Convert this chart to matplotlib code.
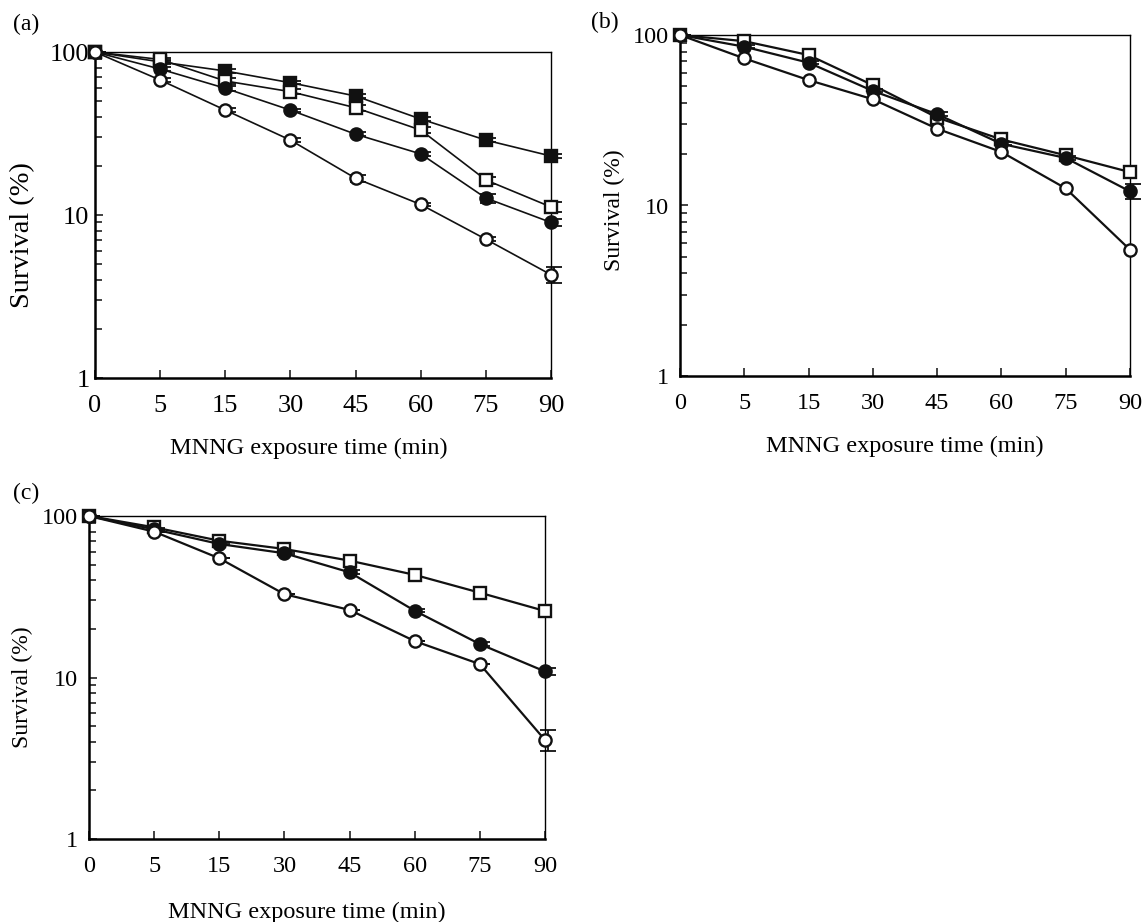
import matplotlib
matplotlib.use("Agg")
import matplotlib.pyplot as plt
import numpy as np
from matplotlib.ticker import LogLocator, NullFormatter

plt.rcParams['font.family'] = ['Liberation Serif', 'DejaVu Serif']

times = ["0", "5", "15", "30", "45", "60", "75", "90"]

# Panel (a)
a_filled_sq = [100, 87, 76.5, 64.8, 53.7, 38.8, 28.8, 23.0]
a_open_sq = [100, 90, 66.4, 57.1, 45.5, 33.2, 16.4, 11.2]
a_filled_ci = [100, 78.6, 59.9, 44.0, 31.3, 23.7, 12.7, 9.0]
a_open_ci = [100, 67.3, 44.0, 28.8, 16.8, 11.6, 7.1, 4.3]
a_err_filled_sq = [0, 2, 2, 1.5, 1.5, 1.2, 0.8, 0.6]
a_err_open_sq = [0, 2, 2.5, 2, 2, 1.5, 0.8, 0.8]
a_err_filled_ci = [0, 2, 2, 1, 0.8, 0.6, 0.8, 0.4]
a_err_open_ci = [0, 2, 1.2, 0.8, 0.8, 0.3, 0.2, 0.5]

# Panel (b)
b_open_sq = [100, 92, 76.3, 50.8, 32.8, 24.4, 19.7, 15.7]
b_filled_ci = [100, 85.4, 68.8, 47.0, 34.3, 23.0, 19.0, 12.1]
b_open_ci = [100, 72.9, 54.4, 42.0, 28.2, 20.6, 12.6, 5.5]
b_err_filled_ci = [0, 1.5, 1.5, 1, 1, 0.5, 0.5, 1.2]

# Panel (c)
c_open_sq = [100, 85.1, 70.3, 62.5, 52.9, 43.2, 33.5, 25.8]
c_filled_ci = [100, 82.7, 67.1, 58.8, 44.8, 25.9, 16.1, 10.9]
c_open_ci = [100, 80.0, 54.7, 32.8, 26.2, 16.8, 12.1, 4.1]
c_err_filled_ci = [0, 1, 1, 1, 1.2, 0.6, 0.4, 0.6]
c_err_open_ci = [0, 0, 0, 0, 0, 0, 0, 0.6]

W, H = 1146, 922
fig = plt.figure(figsize=(W / 100, H / 100), dpi=100)


def make_ax(l, r, t, b):
    return fig.add_axes([l / W, 1 - b / H, (r - l) / W, (b - t) / H])


INK = '#111111'
STYLES = {
    'fsq': dict(marker='s', mfc=INK, ms=8.5),
    'osq': dict(marker='s', mfc='white', ms=8.5),
    'fci': dict(marker='o', mfc=INK, ms=8.8),
    'oci': dict(marker='o', mfc='white', ms=8.8),
}


def draw(ax, series, lw, tfs, ypad):
    x = np.arange(len(times))
    for vals, errs, key in series:
        st = STYLES[key]
        if errs is not None:
            ax.errorbar(x + 0.04, vals, yerr=errs, fmt='none', ecolor=INK,
                        elinewidth=1.3, capsize=5.5, capthick=1.3, zorder=2, clip_on=False)
        ax.plot(x, vals, color=INK, lw=lw, marker=st['marker'], ms=st['ms'],
                mfc=st['mfc'], mec=INK, mew=1.7, zorder=3, clip_on=False)
    ax.set_yscale('log')
    ax.set_ylim(1, 100)
    ax.set_xlim(0, len(times) - 1)
    ax.set_xticks(x)
    ax.set_xticklabels(times)
    ax.set_yticks([1, 10, 100])
    ax.set_yticklabels(['1', '10', '100'])
    ax.yaxis.set_minor_locator(LogLocator(base=10, subs=np.arange(2, 10)))
    ax.yaxis.set_minor_formatter(NullFormatter())
    ax.tick_params(axis='both', which='both', direction='in', top=False, right=False,
                   labelsize=tfs, width=1.2, color='#222222')
    ax.tick_params(axis='both', which='major', length=6)
    ax.tick_params(axis='x', which='major', pad=12)
    ax.tick_params(axis='y', which='major', pad=ypad)
    ax.tick_params(axis='y', which='minor', length=5)
    ax.tick_params(axis='x', which='minor', bottom=False)
    for s in ['left', 'bottom']:
        ax.spines[s].set_linewidth(1.8)
    for s in ['top', 'right']:
        ax.spines[s].set_linewidth(1.0)


axa = make_ax(95, 551, 52, 378)
draw(axa, [
    (a_filled_sq, a_err_filled_sq, 'fsq'),
    (a_open_sq, a_err_open_sq, 'osq'),
    (a_filled_ci, a_err_filled_ci, 'fci'),
    (a_open_ci, a_err_open_ci, 'oci'),
], lw=1.2, tfs=19, ypad=4)

axb = make_ax(680, 1130, 35, 376)
draw(axb, [
    (b_open_sq, None, 'osq'),
    (b_filled_ci, b_err_filled_ci, 'fci'),
    (b_open_ci, None, 'oci'),
], lw=1.6, tfs=17.5, ypad=8)

axc = make_ax(89, 545, 516, 839)
draw(axc, [
    (c_open_sq, None, 'osq'),
    (c_filled_ci, c_err_filled_ci, 'fci'),
    (c_open_ci, c_err_open_ci, 'oci'),
], lw=1.6, tfs=17.5, ypad=8)


def ftext(x, y, s, **kw):
    fig.text(x / W, 1 - y / H, s, ha='center', va='center', **kw)


# panel letters
ftext(26, 24, '(a)', fontsize=17)
ftext(605, 22, '(b)', fontsize=17)
ftext(26, 493, '(c)', fontsize=17)

# y labels
ftext(23, 235, 'Survival (%)', fontsize=20.5, rotation=90)
ftext(614, 210, 'Survival (%)', fontsize=17, rotation=90)
ftext(22, 687, 'Survival (%)', fontsize=17, rotation=90)

# x labels
ftext(309, 448, 'MNNG exposure time (min)', fontsize=17.5)
ftext(905, 446, 'MNNG exposure time (min)', fontsize=17.5)
ftext(307, 912, 'MNNG exposure time (min)', fontsize=17.5)

fig.savefig('out.png', dpi=100, facecolor='white')
